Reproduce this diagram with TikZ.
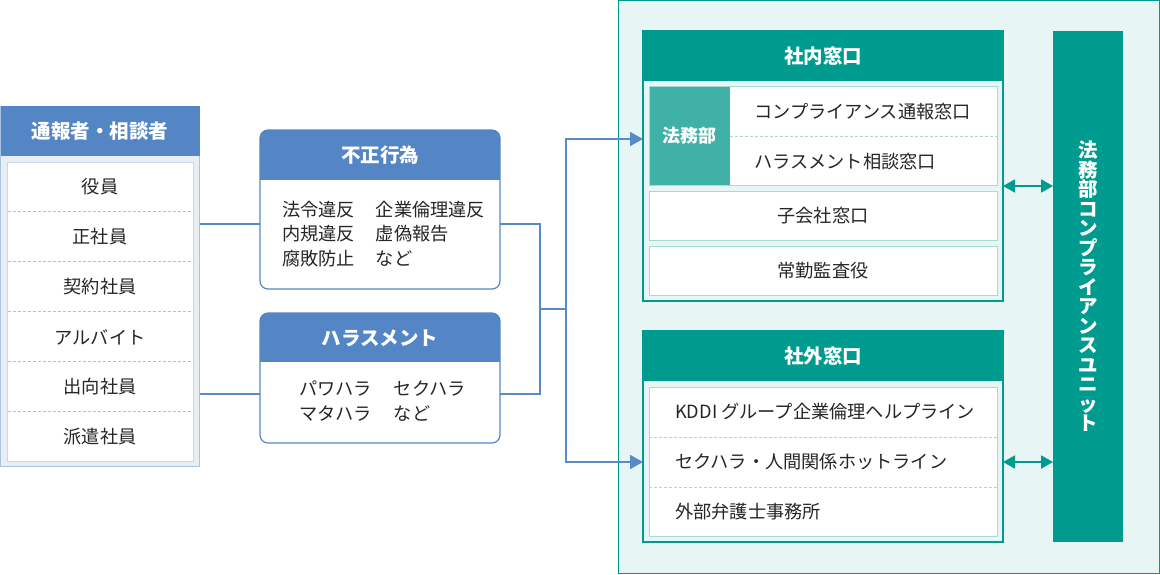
\documentclass[tikz,border=0pt]{standalone}
\usepackage{fontspec}
\setmainfont{Noto Sans CJK JP}
\usetikzlibrary{arrows.meta, positioning}
\definecolor{hdrblue}{RGB}{84,134,198}
\definecolor{linkblue}{RGB}{88,138,202}
\definecolor{leftedge}{RGB}{170,196,224}
\definecolor{leftbg}{RGB}{232,238,243}
\definecolor{leftinner}{RGB}{200,216,234}
\definecolor{unitteal}{RGB}{0,155,143}
\definecolor{lawteal}{RGB}{64,177,167}
\definecolor{panelbg}{RGB}{231,245,244}
\definecolor{rowedge}{RGB}{166,218,212}

\tikzset{
  hdr/.style={font=\bfseries\fontsize{19.5}{20}\selectfont, text=white},
  txt/.style={font=\fontsize{18.2}{24.5}\selectfont, text=black!85, inner sep=0pt},
  box/.style={anchor=north west, inner sep=0pt, outer sep=0pt},
  rowbox/.style={box, txt, draw=rowedge, fill=white, line width=1pt, minimum width=348},
  divider/.style={densely dashed, line width=0.6pt},
  link/.style={draw=linkblue, line width=1.8pt},
  sendto/.style={link, -{Triangle[length=13pt,width=14pt]}},
  twoway/.style={draw=unitteal, line width=1.8pt,
    {Triangle[length=12pt,width=13pt]}-{Triangle[length=12pt,width=13pt]}},
}

\begin{document}
\begin{tikzpicture}[x=1pt, y=-1pt]
\useasboundingbox (0,0) rectangle (1160,574);

% reporters
\node[box, draw=leftedge, fill=leftbg, line width=1pt, minimum width=199, minimum height=360] (who) at (0.5,106) {};
\fill[hdrblue] (who.north west) rectangle (who.east |- 0,156);
\node[hdr] (whoHead) at (100,131) {通報者・相談者};
\node[box, draw=leftinner, fill=white, line width=1pt, minimum width=186, minimum height=299] (whoList) at (7,162) {};
\foreach \name [count=\i] in {役員,正社員,契約社員,アルバイト,出向社員,派遣社員}
  \node[txt] (who\i) at (100,137+50*\i) {\name};
\foreach \i in {1,...,5}
  \draw[divider, leftedge] (7.5,161+50*\i) -- (192.5,161+50*\i);

% misconduct
\node[box, draw=hdrblue, fill=white, line width=1.2pt, rounded corners=8, minimum width=240, minimum height=159] (fraud) at (260,130) {};
\begin{scope}
  \clip[rounded corners=8] (fraud.north west) rectangle (fraud.south east);
  \fill[hdrblue] (fraud.north west) rectangle (fraud.east |- 0,180);
\end{scope}
\node[hdr] (fraudHead) at (380,155) {不正行為};
\node[txt, anchor=west, align=left] (fraudList) at (282,234)
  {法令違反\hspace{21pt}企業倫理違反\\内規違反\hspace{21pt}虚偽報告\\腐敗防止\hspace{21pt}など};

% harassment
\node[box, draw=hdrblue, fill=white, line width=1.2pt, rounded corners=8, minimum width=240, minimum height=130] (harass) at (260,313) {};
\begin{scope}
  \clip[rounded corners=8] (harass.north west) rectangle (harass.south east);
  \fill[hdrblue] (harass.north west) rectangle (harass.east |- 0,362);
\end{scope}
\node[hdr] (harassHead) at (380,338) {ハラスメント};
\node[txt, anchor=west, align=left] (harassList) at (299,401)
  {パワハラ\hspace{22pt}セクハラ\\マタハラ\hspace{22pt}など};

% desks
\node[box, draw=unitteal, fill=panelbg, line width=1pt, minimum width=541, minimum height=573] (panel) at (618.5,0.5) {};

\node[box, draw=unitteal, line width=1.2pt, minimum width=360, minimum height=270] (inWin) at (643,31) {};
\fill[unitteal] (inWin.north west) rectangle (inWin.east |- 0,81);
\node[hdr] (inHead) at (823,56) {社内窓口};
\node[rowbox, minimum height=99] (lawGroup) at (649,86) {};
\node[box, fill=lawteal, minimum width=80, minimum height=98, font=\bfseries\fontsize{18}{20}\selectfont, text=white] (law) at (649.5,86.5) {法務部};
\node[txt, anchor=west] (lawRow1) at (754,112) {コンプライアンス通報窓口};
\node[txt, anchor=west] (lawRow2) at (754,162) {ハラスメント相談窓口};
\draw[divider, rowedge] (law.east |- 0,136) -- (lawGroup.east |- 0,136);
\node[rowbox, minimum height=49] (subsid) at (649,191) {子会社窓口};
\node[rowbox, minimum height=49] (auditor) at (649,246) {常勤監査役};

\node[box, draw=unitteal, line width=1.2pt, minimum width=360, minimum height=211] (outWin) at (643,331) {};
\fill[unitteal] (outWin.north west) rectangle (outWin.east |- 0,381);
\node[hdr] (outHead) at (823,356) {社外窓口};
\node[rowbox, minimum height=149] (outList) at (649,387) {};
\node[txt, anchor=west] (outRow1) at (675,412) {KDDI グループ企業倫理ヘルプライン};
\node[txt, anchor=west] (outRow2) at (675,462) {セクハラ・人間関係ホットライン};
\node[txt, anchor=west] (outRow3) at (675,512) {外部弁護士事務所};
\foreach \y in {437,487}
  \draw[divider, rowedge] (outList.west |- 0,\y) -- (outList.east |- 0,\y);

\node[box, fill=unitteal, minimum width=70, minimum height=511] (unit) at (1053,31) {};
\node[hdr, align=center, font=\bfseries\fontsize{19.5}{19.5}\selectfont] (unitText) at (unit.center)
  {法\\務\\部\\コ\\ン\\プ\\ラ\\イ\\ア\\ン\\ス\\ユ\\ニ\\ッ\\ト};

% connectors
\coordinate (fork) at (540,309);
\coordinate (hub) at (566,309);
\draw[link] (who.east |- 0,224) -- (fraud.west |- 0,224);
\draw[link] (who.east |- 0,394) -- (harass.west |- 0,394);
\draw[link] (fraud.east |- 0,224) -| (fork) |- (harass.east |- 0,394);
\draw[link] (fork) -- (hub);
\draw[sendto] (hub) |- (inWin.west |- 0,139);
\draw[sendto] (hub) |- (outWin.west |- 0,462);
\draw[twoway] (inWin.east |- 0,186) -- (unit.west |- 0,186);
\draw[twoway] (outWin.east |- 0,462) -- (unit.west |- 0,462);
\end{tikzpicture}
\end{document}
